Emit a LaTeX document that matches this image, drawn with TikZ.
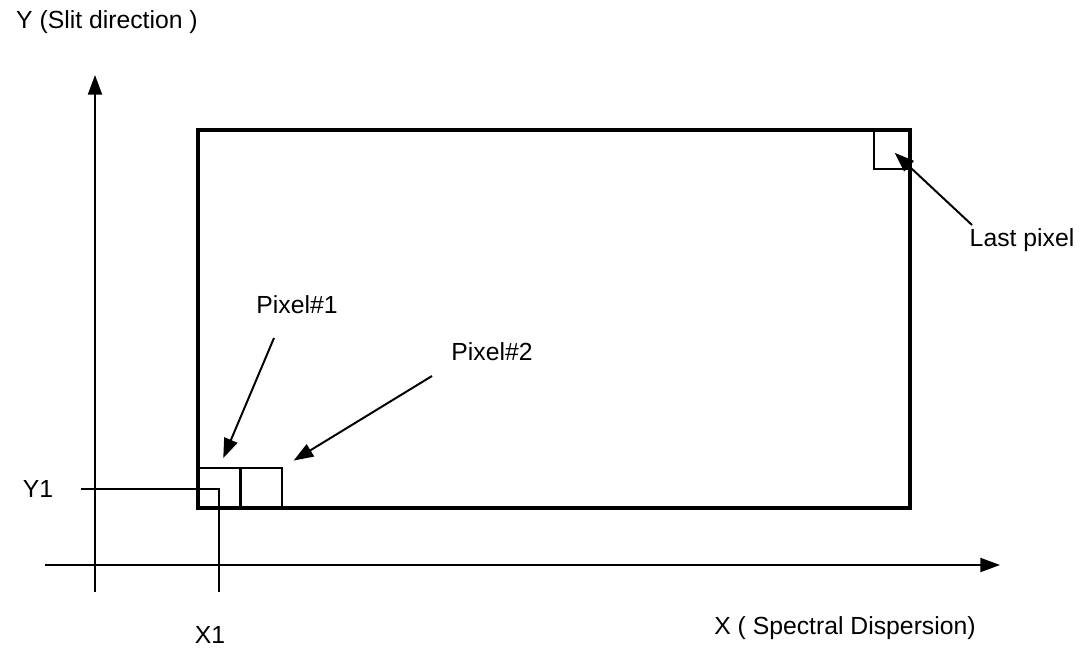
\documentclass[tikz,border=0pt]{standalone}
\usepackage{fontspec}
\setmainfont{Liberation Sans}
\usetikzlibrary{arrows.meta}

\begin{document}
\begin{tikzpicture}[x=0.025cm,y=-0.025cm,
        lbl/.style={font=\fontsize{17.6}{20}\selectfont},
        pix/.style={draw,line width=1.3pt,inner sep=0pt,anchor=south west},
        pointer/.style={-{Triangle[length=14pt,width=10pt]},line width=1.4pt}]
        \useasboundingbox (0,0) rectangle (1082,648);
        % axes
        \coordinate (ybot) at (95,592); \coordinate (ytop) at (95,75);
        \coordinate (xleft) at (45,565); \coordinate (xright) at (1000,565);
        \draw[pointer,line width=1.3pt] (ybot) -- (ytop);
        \draw[pointer,line width=1.3pt] (xleft) -- (xright);
        \node[lbl] (ylbl) at (107,22) {Y (Slit direction )};
        \node[lbl] (xlbl) at (845,628) {X ( Spectral Dispersion)};
        % detector and pixels
        \draw[line width=2.2pt] (198,130) rectangle (910,508);
        \foreach \n/\x in {1/198,2/240}
            \node[pix,minimum width=1.025cm,minimum height=0.975cm] (pix\n) at (\x,508) {};
        \node[pix,anchor=north east,minimum width=0.875cm,minimum height=0.95cm] (lastpix) at (910,130) {};
        % position of pixel 1
        \node[lbl] (y1) at (38,489) {Y1}; \node[lbl] (x1) at (210,635) {X1};
        \coordinate (y1from) at (81,489); \coordinate (x1to) at (219,592);
        \draw[line width=1.3pt] (y1from) -| (x1to);
        % labels with pointers
        \node[lbl] (p1lbl) at (297,305) {Pixel\#1};
        \node[lbl] (p2lbl) at (492,352) {Pixel\#2};
        \node[lbl] (lastlbl) at (1022,240) {Last pixel};
        \coordinate (p1from) at (274,338); \coordinate (p2from) at (432,376);
        \coordinate (lastfrom) at (972,225);
        \draw[pointer,shorten >=7pt] (p1from) -- (pix1.north);
        \draw[pointer,shorten >=9pt] (p2from) -- (pix2.north east);
        \draw[pointer,shorten >=3pt] (lastfrom) -- (lastpix.center);
    \end{tikzpicture}
\end{document}
